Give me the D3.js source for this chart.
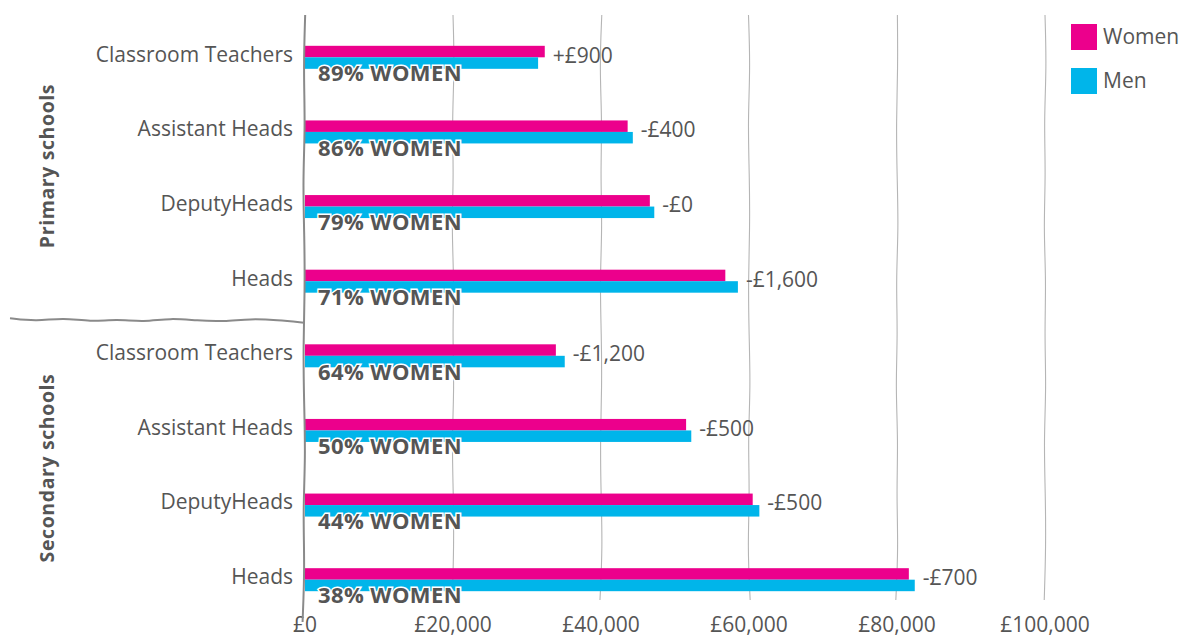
<!DOCTYPE html>
<html>
<head>
<meta charset="utf-8">
<script src="https://cdn.jsdelivr.net/npm/d3@7"></script>
<style>
  body { margin: 0; background: #fff; }
  svg { display: block; font-family: "Open Sans", Lato, sans-serif; }
</style>
</head>
<body>
<svg id="chart" width="1185" height="638"></svg>
<script>
// data
const groups = ["Primary schools", "Secondary schools"];
const roles = ["Classroom Teachers", "Assistant Heads", "DeputyHeads", "Heads"];
const womenPay = [32400, 43600, 46600, 56800, 33900, 51500, 60500, 81600];
const menPay = [31500, 44300, 47200, 58500, 35100, 52200, 61400, 82400];
const gapLabels = ["+£900", "-£400", "-£0", "-£1,600", "-£1,200", "-£500", "-£500", "-£700"];
const shareLabels = ["89% WOMEN", "86% WOMEN", "79% WOMEN", "71% WOMEN", "64% WOMEN", "50% WOMEN", "44% WOMEN", "38% WOMEN"];
const xTicks = [0, 20000, 40000, 60000, 80000, 100000];

const PINK = "#ec008c", BLUE = "#00b5ea", TEXT = "#555";

const svg = d3.select("#chart");
const x = d3.scaleLinear().domain([0, 100000]).range([305, 1045]);
const rows = d3.range(8);
const y = d3.scaleBand().domain(rows).range([20, 617]).paddingInner(0);
const barH = 11.5;
const mid = i => y(i) + y.bandwidth() / 2;

// hand drawn line helper (small fixed wiggles)
const wiggle = [0, 1.2, -0.8, 0.6, -1.1, 0.9, -0.4, 1.0, -0.9, 0.3, 0.7, -0.6];
const sketch = d3.line().curve(d3.curveBasis);
function vline(x0, y0, y1, seed) {
  const n = wiggle.length;
  return sketch(d3.range(n).map(i => [x0 + wiggle[(i + seed) % n] * 1.3, y0 + (y1 - y0) * i / (n - 1)]));
}
function hline(x0, x1, y0, seed) {
  const n = wiggle.length;
  return sketch(d3.range(n).map(i => [x0 + (x1 - x0) * i / (n - 1), y0 + wiggle[(i + seed) % n] * 2.2]));
}

// gridlines
svg.append("g").selectAll("path")
  .data(xTicks.slice(1))
  .join("path")
  .attr("d", (d, i) => vline(x(d), 15, 600, i * 3))
  .attr("fill", "none")
  .attr("stroke", "#b5b5b5")
  .attr("stroke-width", 1.1);

// tick labels
svg.append("g").selectAll("text")
  .data(xTicks)
  .join("text")
  .attr("x", d => x(d))
  .attr("y", 632)
  .attr("text-anchor", "middle")
  .attr("fill", TEXT)
  .attr("font-size", 21)
  .text(d => "£" + d3.format(",")(d));

// bars
const bars = svg.append("g");
bars.selectAll("rect.w")
  .data(rows)
  .join("rect")
  .attr("class", "w")
  .attr("x", x(0))
  .attr("y", i => mid(i) - barH)
  .attr("width", i => x(womenPay[i]) - x(0))
  .attr("height", barH)
  .attr("fill", PINK);
bars.selectAll("rect.m")
  .data(rows)
  .join("rect")
  .attr("class", "m")
  .attr("x", x(0))
  .attr("y", i => mid(i))
  .attr("width", i => x(menPay[i]) - x(0))
  .attr("height", barH)
  .attr("fill", BLUE);

// axis line + separator
svg.append("path")
  .attr("d", vline(304, 15, 622, 5))
  .attr("fill", "none").attr("stroke", "#8a8a8a").attr("stroke-width", 2);
svg.append("path")
  .attr("d", hline(10, 304, 320, 2))
  .attr("fill", "none").attr("stroke", "#8a8a8a").attr("stroke-width", 2);

// category labels
svg.append("g").selectAll("text")
  .data(rows)
  .join("text")
  .attr("x", 293)
  .attr("y", i => mid(i) - 3)
  .attr("dy", "0.35em")
  .attr("text-anchor", "end")
  .attr("fill", TEXT)
  .attr("font-size", 21)
  .text(i => roles[i % 4]);

// gap labels
svg.append("g").selectAll("text")
  .data(rows)
  .join("text")
  .attr("x", i => x(Math.max(womenPay[i], menPay[i])) + 8)
  .attr("y", i => mid(i) - 2)
  .attr("dy", "0.35em")
  .attr("fill", TEXT)
  .attr("font-size", 21)
  .text(i => gapLabels[i]);

// share of women labels
svg.append("g").selectAll("text")
  .data(rows)
  .join("text")
  .attr("x", 318)
  .attr("y", i => mid(i) + 16)
  .attr("dy", "0.35em")
  .attr("fill", TEXT)
  .attr("font-size", 22)
  .attr("font-weight", "bold")
  .attr("letter-spacing", 0.4)
  .attr("stroke", "#fff")
  .attr("stroke-width", 3)
  .attr("paint-order", "stroke")
  .text(i => shareLabels[i]);

// group labels
svg.append("g").selectAll("text")
  .data(groups)
  .join("text")
  .attr("transform", (d, i) => `translate(54,${i === 0 ? 166 : 468}) rotate(-90)`)
  .attr("text-anchor", "middle")
  .attr("fill", TEXT)
  .attr("font-size", 19.5)
  .attr("font-weight", "bold")
  .attr("letter-spacing", 0.6)
  .text(d => d);

// legend
const legend = svg.append("g").selectAll("g")
  .data([["Women", PINK], ["Men", BLUE]])
  .join("g")
  .attr("transform", (d, i) => `translate(1071,${24 + i * 44})`);
legend.append("rect").attr("width", 26).attr("height", 26).attr("fill", d => d[1]);
legend.append("text")
  .attr("x", 32).attr("y", 13).attr("dy", "0.35em")
  .attr("fill", TEXT).attr("font-size", 21)
  .text(d => d[0]);
</script>
</body>
</html>
